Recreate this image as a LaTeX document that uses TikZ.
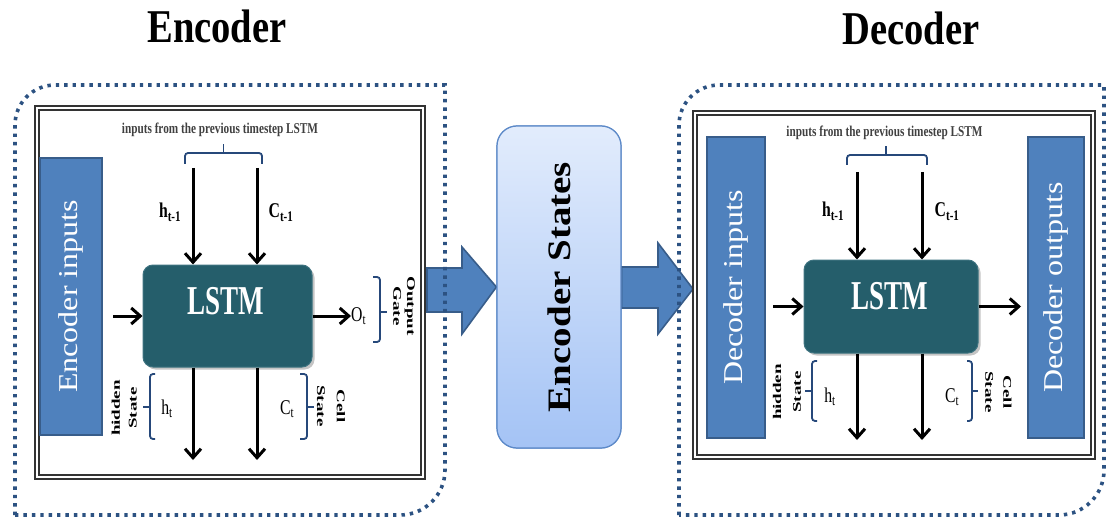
\documentclass[tikz,border=0pt]{standalone}
\usepackage{fontspec}
\setmainfont{Liberation Serif}
\usepackage{graphicx}
\usetikzlibrary{arrows.meta,shadows}

\definecolor{boxblue}{RGB}{79,129,189}
\definecolor{boxedge}{RGB}{56,93,138}
\definecolor{lstmteal}{RGB}{37,94,107}
\definecolor{lstmedge}{RGB}{62,115,128}
\definecolor{dotblue}{RGB}{44,82,130}
\definecolor{bracecol}{RGB}{38,72,122}
\definecolor{statetop}{RGB}{226,236,252}
\definecolor{statebot}{RGB}{164,195,245}
\definecolor{stateedge}{RGB}{92,137,200}
\definecolor{notegray}{RGB}{64,64,64}

% horizontally condensed text
\newcommand\sq[2]{\scalebox{#1}[1]{#2}}
% two-line bold side label: #1 line skip, #2 rotation, #3/#4 lines
\newcommand\vpair[4]{\rotatebox{#2}{\scalebox{1}[0.62]{\fontsize{19}{#1}\selectfont\bfseries
  \begin{tabular}{@{}c@{}}#3\\#4\end{tabular}}}}

\begin{document}
\begin{tikzpicture}[x=1pt,y=-1pt,
  title/.style={font=\fontsize{47}{52}\selectfont\bfseries, inner sep=0pt},
  container/.style={draw=dotblue, line width=3.6pt, dash pattern=on 3.4pt off 5pt},
  frame/.style={draw=black!80, double=white, double distance=2pt, line width=1.7pt, fill=white},
  sidebox/.style={draw=boxedge, line width=2pt, fill=boxblue, text=white, inner sep=0pt,
    font=\fontsize{32}{36}\selectfont},
  lstmbox/.style={rounded corners=10pt, fill=lstmteal, draw=lstmedge, line width=1pt,
    drop shadow={shadow xshift=2.5pt, shadow yshift=-2.5pt, opacity=0.45}, inner sep=0pt},
  lstmtext/.style={text=white, font=\fontsize{41}{46}\selectfont\bfseries, inner sep=0pt},
  statebox/.style={rounded corners=20pt, top color=statetop, bottom color=statebot,
    draw=stateedge, line width=1.2pt, inner sep=0pt, minimum width=124pt, minimum height=322pt},
  note/.style={text=notegray, font=\fontsize{15}{17}\selectfont\bfseries, inner sep=0pt, anchor=base},
  sym/.style={font=\fontsize{21}{24}\selectfont, inner sep=0pt, anchor=base},
  symb/.style={sym, font=\fontsize{21}{24}\selectfont\bfseries},
  side/.style={inner sep=0pt},
  bracket/.style={draw=bracecol, line width=1.8pt, rounded corners=3pt},
  flow/.style={line width=3pt, -{Straight Barb[length=9pt,width=16pt]}},
  block/.style={fill=boxblue, draw=boxedge, line width=1.6pt, line join=miter}
]
\useasboundingbox (0,0) rectangle (1107,521);
\fill[white] (0,0) rectangle (1107,521);

% titles
\node[title, anchor=base] (enctitle) at (217,43) {\sq{0.82}{Encoder}};
\node[title, anchor=base] (dectitle) at (911,45) {\sq{0.82}{Decoder}};

% central state box (placement reference for the block arrows)
\node[statebox] (states) at (559,287) {};

% block arrows into and out of the encoder states
\draw[block] (427,268) -- (462,268) -- (462,247) -- (states.west) -- (462,334) -- (462,312) -- (427,312) -- cycle;
\draw[block] (states.east |- 0,267) -- (658,267) -- (658,243) -- (693,289) -- (658,334) -- (658,308) -- (states.east |- 0,308) -- cycle;

% dotted outer containers
\draw[container] (15,515) -- (15,125) arc[start angle=180, end angle=270, radius=40]
  -- (445,85) -- (445,470) arc[start angle=0, end angle=90, radius=45] -- cycle;
\draw[container] (679,515) -- (679,125) arc[start angle=180, end angle=270, radius=40]
  -- (1104,85) -- (1104,470) arc[start angle=0, end angle=90, radius=45] -- cycle;

% the state box drawn above the arrows, with its label
\node[statebox] (states2) at (559,287)
  {\rotatebox{90}{\scalebox{1}[0.84]{\fontsize{39}{44}\selectfont\bfseries Encoder States}}};

% ================= encoder =================
\draw[frame] (37,108) rectangle (423,477);

\node[sidebox, minimum width=62pt, minimum height=277pt] (encin) at (71,296.5)
  {\rotatebox{90}{\scalebox{1}[0.85]{Encoder inputs}}};

\node[lstmbox, minimum width=169pt, minimum height=102pt] (lstm1) at (227.5,316) {};
\node[lstmtext] (lstm1t) at (226,301.5) {\sq{0.66}{LSTM}};

\node[note] (enote) at (220,134) {\sq{0.75}{inputs from the previous timestep LSTM}};
\draw[bracket] (185,164) -- (185,153) -- (262,153) -- (262,164);
\draw[bracket] (223.5,153) -- (223.5,144);

\coordinate (e-h0) at (193,168);
\coordinate (e-c0) at (257,168);
\coordinate (e-h1) at (193,460);
\coordinate (e-c1) at (257,460);
\coordinate (e-in) at (113,316);

\draw[flow] (e-h0) -- (e-h0 |- lstm1.north);
\draw[flow] (e-c0) -- (e-c0 |- lstm1.north);
\draw[flow] (e-h1 |- lstm1.south) -- (e-h1);
\draw[flow] (e-c1 |- lstm1.south) -- (e-c1);
\draw[flow] (e-in) -- (lstm1);

\node[symb] (ehp) at (170,218) {\sq{0.75}{h\textsubscript{t-1}}};
\node[symb] (ecp) at (281,218) {\sq{0.75}{C\textsubscript{t-1}}};
\node[sym] (eht) at (167,414) {\sq{0.75}{h\textsubscript{t}}};
\node[sym] (ect) at (287,414) {\sq{0.75}{C\textsubscript{t}}};

\node[sym, anchor=west] (eot) at (351,316) {\sq{0.75}{O\textsubscript{t}}};
\draw[flow] (lstm1) -- (eot);

% output gate bracket and label
\draw[bracket] (373,277) -- (380,277) -- (380,342) -- (373,342);
\draw[bracket] (380,312) -- (387,312);
\node[side] (egate) at (403,306) {\vpair{22}{-90}{Output}{Gate}};

% hidden state bracket and label
\draw[bracket] (155,374) -- (150,374) -- (150,439) -- (155,439);
\draw[bracket] (150,407) -- (143,407);
\node[side] (ehid) at (125,408) {\vpair{27}{90}{hidden}{State}};

% cell state bracket and label
\draw[bracket] (300,374) -- (307,374) -- (307,439) -- (300,439);
\draw[bracket] (307,407) -- (314,407);
\node[side] (ecell) at (331,406) {\vpair{32}{-90}{Cell}{State}};

% ================= decoder =================
\draw[frame] (695,113) rectangle (1093,457);

\node[sidebox, minimum width=58pt, minimum height=301pt] (decin) at (736,287.5)
  {\rotatebox{90}{\scalebox{1}[0.85]{Decoder inputs}}};
\node[sidebox, minimum width=56pt, minimum height=301pt] (decout) at (1056,287.5)
  {\rotatebox{90}{\scalebox{1}[0.85]{Decoder outputs}}};

\node[lstmbox, minimum width=174pt, minimum height=93pt] (lstm2) at (891,306.5) {};
\node[lstmtext] (lstm2t) at (890,296.5) {\sq{0.66}{LSTM}};

\node[note] (dnote) at (884.5,137) {\sq{0.75}{inputs from the previous timestep LSTM}};
\draw[bracket] (847,165) -- (847,155) -- (927,155) -- (927,165);
\draw[bracket] (886,155) -- (886,146);

\coordinate (d-h0) at (857,172);
\coordinate (d-c0) at (922,172);
\coordinate (d-h1) at (857,440);
\coordinate (d-c1) at (922,440);
\coordinate (d-in) at (773,306.5);
\coordinate (d-out) at (1021,306.5);

\draw[flow] (d-h0) -- (d-h0 |- lstm2.north);
\draw[flow] (d-c0) -- (d-c0 |- lstm2.north);
\draw[flow] (d-h1 |- lstm2.south) -- (d-h1);
\draw[flow] (d-c1 |- lstm2.south) -- (d-c1);
\draw[flow] (d-in) -- (lstm2);
\draw[flow] (lstm2) -- (d-out);

\node[symb] (dhp) at (833,217) {\sq{0.75}{h\textsubscript{t-1}}};
\node[symb] (dcp) at (947,217) {\sq{0.75}{C\textsubscript{t-1}}};
\node[sym] (dht) at (830,402) {\sq{0.75}{h\textsubscript{t}}};
\node[sym] (dct) at (952,402) {\sq{0.75}{C\textsubscript{t}}};

\draw[bracket] (817,361) -- (812,361) -- (812,421) -- (817,421);
\draw[bracket] (812,391) -- (805,391);
\node[side] (dhid) at (787,392) {\vpair{32}{90}{hidden}{State}};

\draw[bracket] (967,361) -- (972,361) -- (972,421) -- (967,421);
\draw[bracket] (972,391) -- (978,391);
\node[side] (dcell) at (998,392) {\vpair{29}{-90}{Cell}{State}};
\end{tikzpicture}
\end{document}
